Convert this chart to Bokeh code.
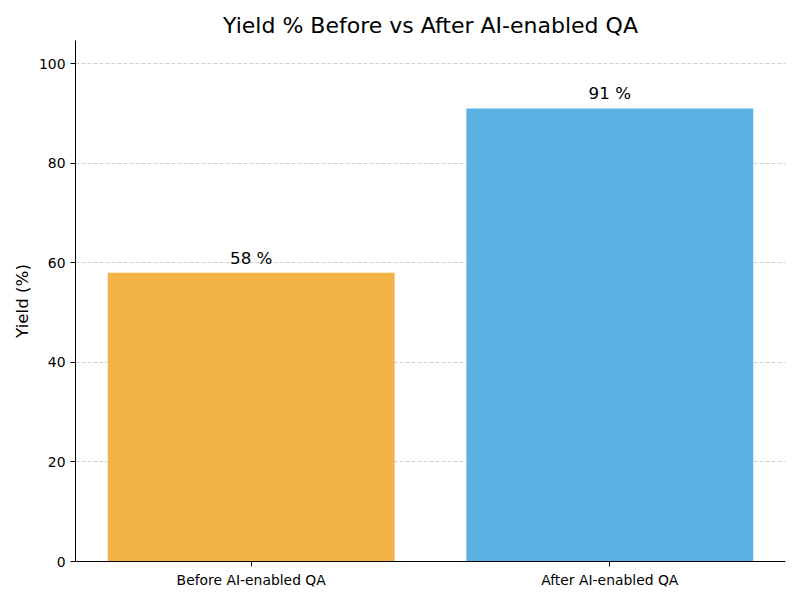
from bokeh.core.properties import value
from bokeh.embed import file_html
from bokeh.models import ColumnDataSource, FixedTicker, Range1d
from bokeh.plotting import figure
from bokeh.resources import INLINE

categories = ["Before AI-enabled QA", "After AI-enabled QA"]
yields = [58, 91]
colors = ["#F3B346", "#5AB2E2"]
y_ticks = [0, 20, 40, 60, 80, 100]

FONT = "DejaVu Sans"

xs = list(range(len(categories)))
src = ColumnDataSource(data=dict(
    x=xs,
    top=yields,
    color=colors,
    label_y=[v + 1 for v in yields],
    label=[f"{v} %" for v in yields],
))

p = figure(
    frame_width=710, frame_height=521,
    min_border_left=75, min_border_right=15,
    min_border_top=40, min_border_bottom=39,
    x_range=Range1d(-0.49, 1.49), y_range=Range1d(0, max(yields) * 1.15),
    output_backend="svg", toolbar_location=None,
    title="Yield % Before vs After AI-enabled QA",
)

p.vbar(x="x", top="top", width=0.8, bottom=0, color="color", line_color=None, source=src)
p.text(x="x", y="label_y", text="label", source=src,
       text_align="center", text_baseline="bottom",
       text_font=value(FONT), text_font_size="16.7px", text_color="black")

p.title.align = "center"
p.title.text_font = FONT
p.title.text_font_size = "22px"
p.title.text_font_style = "normal"
p.title.text_color = "black"
p.title.standoff = 5

p.outline_line_color = None
p.xgrid.grid_line_color = None
p.ygrid.grid_line_color = "#c4c4c4"
p.ygrid.grid_line_dash = "4 2"
p.ygrid.grid_line_width = 0.8

p.xaxis.ticker = FixedTicker(ticks=xs)
p.xaxis.major_label_overrides = {i: c for i, c in zip(xs, categories)}
p.yaxis.ticker = FixedTicker(ticks=y_ticks)
p.yaxis.axis_label = "Yield (%)"
p.yaxis.axis_label_standoff = 4

for ax in (p.xaxis, p.yaxis):
    ax.axis_line_color = "black"
    ax.major_tick_line_color = "black"
    ax.major_tick_in = 0
    ax.major_tick_out = 5
    ax.minor_tick_line_color = None
    ax.major_label_text_font = FONT
    ax.major_label_text_font_size = "13.9px"
    ax.major_label_text_color = "black"
    ax.axis_label_text_font = FONT
    ax.axis_label_text_font_size = "16.7px"
    ax.axis_label_text_font_style = "normal"
    ax.axis_label_text_color = "black"

open("out.html", "w").write(file_html(p, INLINE))
